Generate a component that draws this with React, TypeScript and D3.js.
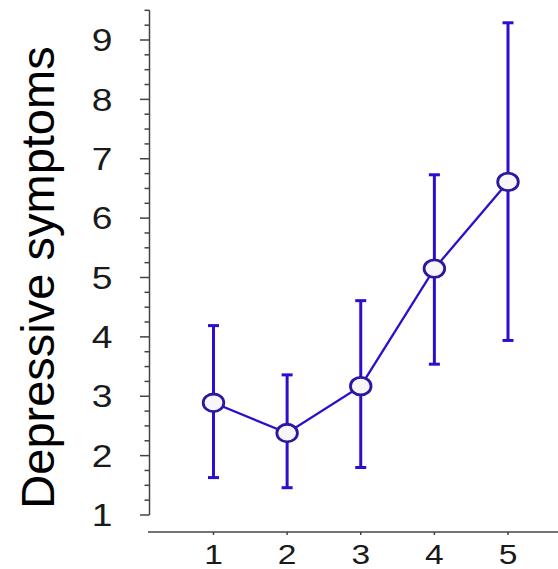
import React from "react";
import * as d3 from "d3";

const categories = [1, 2, 3, 4, 5];
const means = [2.89, 2.38, 3.17, 5.15, 6.61];
const upper = [4.19, 3.36, 4.61, 6.73, 9.29];
const lower = [1.63, 1.46, 1.8, 3.54, 3.94];
const yTickLabels = [1, 2, 3, 4, 5, 6, 7, 8, 9];
const yTitle = "Depressive symptoms";

const W = 558;
const H = 569;

export default function App() {
  const x = d3.scaleLinear().domain([1, 5]).range([213.5, 508]);
  const y = d3.scaleLinear().domain([1, 9]).range([515, 40]);
  const minorTicks = d3.range(1, 9.5001, 0.25);
  const lineColor = "#2a10cc";
  const circleStroke = "#2a189f";
  const axisColor = "#444";
  const font = "'Liberation Sans', Arial, Helvetica, sans-serif";
  const pts = categories.map((c, i) => ({ c, m: means[i], u: upper[i], l: lower[i] }));
  const line = d3
    .line<{ c: number; m: number }>()
    .x((d) => x(d.c))
    .y((d) => y(d.m));
  const axisY = 532;
  return (
    <svg
      width={W}
      height={H}
      style={{ position: "absolute", left: 0, top: 0, background: "#fff" }}
    >
      {/* y axis */}
      <line x1={149.5} x2={149.5} y1={y(9.5)} y2={y(1)} stroke={axisColor} strokeWidth={1.5} />
      {minorTicks.map((t) => {
        const major = Math.abs(t - Math.round(t)) < 1e-6;
        return (
          <line
            key={t}
            x1={major ? 140 : 144.5}
            x2={149.5}
            y1={y(t)}
            y2={y(t)}
            stroke={axisColor}
            strokeWidth={1.5}
          />
        );
      })}
      {yTickLabels.map((t) => (
        <text
          key={t}
          transform={`translate(112.5,${y(t)}) scale(1.2,1)`}
          dy="0.36em"
          textAnchor="end"
          fontFamily={font}
          fontSize={31}
          fill="#1a1a1a"
        >
          {t}
        </text>
      ))}
      <text
        transform={`translate(53.5,${277.5}) rotate(-90)`}
        textAnchor="middle"
        fontFamily={font}
        fontSize={47}
        fill="#000"
      >
        {yTitle}
      </text>
      {/* x axis */}
      <line x1={x(0.11)} x2={x(5.7)} y1={axisY} y2={axisY} stroke={axisColor} strokeWidth={1.5} />
      {categories.map((c) => (
        <g key={c}>
          <line x1={x(c)} x2={x(c)} y1={axisY} y2={axisY + 3} stroke={axisColor} strokeWidth={1.5} />
          <text
            transform={`translate(${x(c)},564) scale(1.2,1)`}
            textAnchor="middle"
            fontFamily={font}
            fontSize={28}
            fill="#1a1a1a"
          >
            {c}
          </text>
        </g>
      ))}
      {/* error bars */}
      {pts.map((p) => (
        <g key={p.c} stroke={lineColor} strokeWidth={3}>
          <line x1={x(p.c)} x2={x(p.c)} y1={y(p.u)} y2={y(p.l)} />
          <line x1={x(p.c) - 5.5} x2={x(p.c) + 5.5} y1={y(p.u)} y2={y(p.u)} />
          <line x1={x(p.c) - 5.5} x2={x(p.c) + 5.5} y1={y(p.l)} y2={y(p.l)} />
        </g>
      ))}
      <path d={line(pts) || ""} fill="none" stroke={lineColor} strokeWidth={2.3} />
      {pts.map((p) => (
        <ellipse
          key={p.c}
          cx={x(p.c)}
          cy={y(p.m)}
          rx={10.3}
          ry={8.8}
          fill="#f8f5fb"
          stroke={circleStroke}
          strokeWidth={2.8}
        />
      ))}
    </svg>
  );
}
